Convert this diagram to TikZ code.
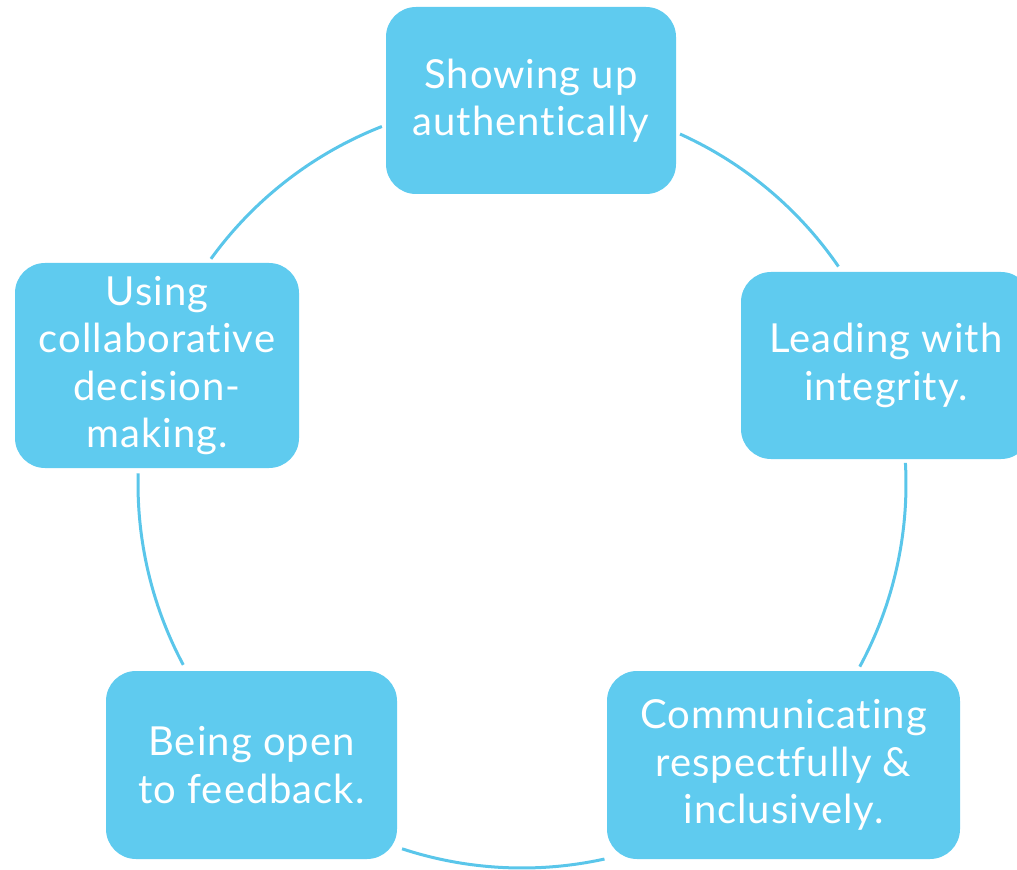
\documentclass[tikz,border=0pt]{standalone}
\usepackage{fontspec}
\setmainfont{Lato}[LetterSpace=2.5, Ligatures={NoCommon}]
\usetikzlibrary{calc}
\definecolor{boxblue}{RGB}{95,203,239}
\definecolor{arcblue}{RGB}{90,198,234}
\tikzset{
  cyclebox/.style={draw=none, fill=boxblue, rounded corners=15pt, inner sep=0pt,
    minimum width=145pt, minimum height=93.5pt, align=center, text=white,
    font=\fontsize{20}{23.75}\selectfont},
  arcline/.style={draw=arcblue, line width=1.5pt}
}
\begin{document}
\begin{tikzpicture}[x=0.5pt, y=0.5pt]
\clip (0,0) rectangle (1017,869);
\coordinate (c) at (522,385);
% boxes
\node[cyclebox] (b1) at (531,768.5) {Showing up\\authentically};
\node[cyclebox] (b2) at (886,503.5) {Leading with\\integrity.};
\node[cyclebox, minimum width=176.5pt, minimum height=94pt] (b3) at (783.5,104) {Communicating\\respectfully \&\\inclusively.};
\node[cyclebox, minimum width=145.5pt, minimum height=94pt] (b4) at (251.5,104) {Being open\\to feedback.};
\node[cyclebox, minimum width=142pt, minimum height=102.5pt] (b5) at (157,503.5) {Using\\collaborative\\decision-\\making.};
% arc end points on the circle
\coordinate (a12) at ($(c)+(65.7:192pt)$);
\coordinate (a23) at ($(c)+(3.15:192pt)$);
\coordinate (a34) at ($(c)+(-77.6:192pt)$);
\coordinate (a45) at ($(c)+(-151.9:192pt)$);
\coordinate (a51) at ($(c)+(144.1:192pt)$);
% connectors
\draw[arcline] (a12) arc[start angle=65.7, end angle=34.5, radius=192pt];
\draw[arcline] (a23) arc[start angle=3.15, end angle=-28.4, radius=192pt];
\draw[arcline] (a34) arc[start angle=-77.6, end angle=-108.2, radius=192pt];
\draw[arcline] (a45) arc[start angle=-151.9, end angle=-181.6, radius=192pt];
\draw[arcline] (a51) arc[start angle=144.1, end angle=111.4, radius=192pt];
\end{tikzpicture}
\end{document}
